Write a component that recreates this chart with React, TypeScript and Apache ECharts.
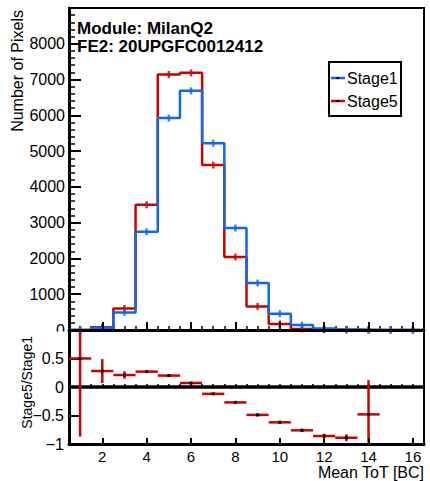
import React, { useEffect, useRef } from "react";
import * as echarts from "echarts";

// ---- data ----
const binCenters = [1, 2, 3, 4, 5, 6, 7, 8, 9, 10, 11, 12, 13, 14, 15, 16];
const stage1Counts = [2, 60, 492, 2746, 5922, 6684, 5223, 2849, 1313, 455, 140, 40, 15, 2, 0, 0];
const stage5Counts = [3, 77, 603, 3500, 7140, 7187, 4609, 2039, 659, 168, 31, 5, 2, 1, 0, 0];
const ratioCenters = [1, 2, 3, 4, 5, 6, 7, 8, 9, 10, 11, 12, 13, 14];
const ratioValues = [0.5, 0.28, 0.21, 0.27, 0.2, 0.07, -0.12, -0.27, -0.49, -0.62, -0.76, -0.86, -0.89, -0.48];
const ratioErrors = [1.37, 0.21, 0.065, 0.02, 0.015, 0.012, 0.012, 0.015, 0.02, 0.03, 0.03, 0.04, 0.06, 0.6];
const xTickLabels = [2, 4, 6, 8, 10, 12, 14, 16];
const seriesNames = ["Stage1", "Stage5"];
const infoLines = ["Module: MilanQ2", "FE2: 20UPGFC0012412"];

const FONT = "'Liberation Sans', Arial, Helvetica, sans-serif";
const BLUE = "#1166ee";
const RED = "#cc0000";
const BINW = 1;

function stepData(vals: number[]) {
  const d: number[][] = binCenters.map((c, i) => [c - BINW / 2, vals[i]]);
  d.push([binCenters[binCenters.length - 1] + BINW / 2, vals[vals.length - 1]]);
  return d;
}

export default function App() {
  const ref = useRef<HTMLDivElement>(null);
  useEffect(() => {
    if (!ref.current) return;
    const chart = echarts.init(ref.current, null, { renderer: "svg" });
    const gTop = { left: 69, top: 8, width: 355, height: 322 };
    const gBot = { left: 69, top: 330, width: 355, height: 114 };
    const xMin = binCenters[0] - BINW / 2;
    const xMax = binCenters[binCenters.length - 1] + BINW / 2;
    const black = "#000";

    const mainX = (gi: number, tickLen: number, showLabels: boolean) => ({
      type: "value",
      gridIndex: gi,
      min: xMin,
      max: xMax,
      z: 10,
      axisLine: { show: true, onZero: false, lineStyle: { color: black, width: 3 } },
      axisTick: { show: true, inside: true, length: tickLen, customValues: xTickLabels, lineStyle: { color: black, width: 2 } },
      axisLabel: {
        show: showLabels,
        customValues: xTickLabels,
        color: black,
        fontSize: 15,
        lineHeight: 15,
        fontFamily: FONT,
        margin: 5,
      },
      splitLine: { show: false },
    });
    const minorX = (gi: number, tickLen: number) => ({
      type: "value",
      gridIndex: gi,
      min: xMin,
      max: xMax,
      interval: 0.5,
      axisLine: { show: false },
      axisTick: { show: true, inside: true, length: tickLen, lineStyle: { color: black, width: 1.5 } },
      axisLabel: { show: false },
      splitLine: { show: false },
    });

    const option: any = {
      animation: false,
      grid: [
        { ...gTop, show: true, borderColor: black, borderWidth: 2, backgroundColor: "transparent" },
        { ...gBot, show: true, borderColor: black, borderWidth: 2, backgroundColor: "transparent" },
        { ...gTop, show: false },
        { ...gBot, show: false },
      ],
      xAxis: [mainX(0, 8, false), mainX(1, 6, true), minorX(2, 4), minorX(3, 3)],
      yAxis: [
        {
          type: "value",
          gridIndex: 0,
          min: 0,
          max: 9000,
          interval: 1000,
          axisLine: { show: true, lineStyle: { color: black, width: 3 } },
          axisTick: { show: true, inside: true, length: 12, lineStyle: { color: black, width: 2 } },
          minorTick: { show: true, splitNumber: 5, length: 6, lineStyle: { color: black, width: 1.5 } },
          axisLabel: {
            color: black,
            fontSize: 16,
            fontFamily: FONT,
            margin: 4,
            showMaxLabel: false,
            formatter: (v: number) => String(v),
          },
          splitLine: { show: false },
        },
        {
          type: "value",
          gridIndex: 1,
          min: -1,
          max: 1,
          interval: 0.5,
          axisLine: { show: true, onZero: false, lineStyle: { color: black, width: 3 } },
          axisTick: { show: true, inside: true, length: 11, lineStyle: { color: black, width: 2 } },
          axisLabel: {
            color: black,
            fontSize: 16,
            fontFamily: FONT,
            margin: 5,
            showMaxLabel: false,
            formatter: (v: number) => (v < 0 ? "\u2212" + String(Math.abs(v)) : String(v)),
          },
          splitLine: { show: false },
        },
        { type: "value", gridIndex: 2, min: 0, max: 9000, show: false },
        { type: "value", gridIndex: 3, min: -1, max: 1, show: false },
      ],
      series: [
        {
          name: seriesNames[1],
          type: "line",
          xAxisIndex: 0,
          yAxisIndex: 0,
          step: "end",
          symbol: "none",
          data: stepData(stage5Counts),
          lineStyle: { color: RED, width: 2.5 },
          z: 3,
        },
        {
          type: "scatter",
          xAxisIndex: 0,
          yAxisIndex: 0,
          symbol: "rect",
          symbolSize: [2.5, 7],
          data: binCenters.map((c, i) => [c, stage5Counts[i]]),
          itemStyle: { color: RED },
          z: 3,
        },
        {
          name: seriesNames[0],
          type: "line",
          xAxisIndex: 0,
          yAxisIndex: 0,
          step: "end",
          symbol: "none",
          data: stepData(stage1Counts),
          lineStyle: { color: BLUE, width: 2.5 },
          z: 4,
        },
        {
          type: "scatter",
          xAxisIndex: 0,
          yAxisIndex: 0,
          symbol: "rect",
          symbolSize: [2.5, 7],
          data: binCenters.map((c, i) => [c, stage1Counts[i]]),
          itemStyle: { color: BLUE },
          z: 4,
        },
        {
          type: "line",
          xAxisIndex: 1,
          yAxisIndex: 1,
          symbol: "none",
          data: [
            [xMin, 0],
            [xMax, 0],
          ],
          lineStyle: { color: black, width: 3.5 },
          z: 2,
        },
        {
          type: "custom",
          xAxisIndex: 1,
          yAxisIndex: 1,
          data: ratioCenters.map((c, i) => [c, ratioValues[i], ratioErrors[i]]),
          z: 5,
          renderItem: (params: any, api: any) => {
            const x = api.value(0);
            const y = api.value(1);
            const e = api.value(2);
            const hi = Math.min(y + e, 1);
            const lo = Math.max(y - e, -1);
            const pL = api.coord([x - BINW / 2, y]);
            const pR = api.coord([x + BINW / 2, y]);
            const pT = api.coord([x, hi]);
            const pB = api.coord([x, lo]);
            const pc = api.coord([x, y]);
            return {
              type: "group",
              children: [
                { type: "line", shape: { x1: pL[0], y1: pL[1], x2: pR[0], y2: pR[1] }, style: { stroke: RED, lineWidth: 2.5 } },
                { type: "line", shape: { x1: pT[0], y1: pT[1], x2: pB[0], y2: pB[1] }, style: { stroke: RED, lineWidth: 2.5 } },
                { type: "rect", shape: { x: pc[0] - 1.5, y: pc[1] - 1.5, width: 3, height: 3 }, style: { fill: black } },
              ],
            };
          },
        },
      ],
      graphic: [
        { type: "rect", z: 100, shape: { x: 38, y: 331.5, width: 28, height: 9 }, style: { fill: "#fff" } },
        {
          type: "text",
          z: 100,
          x: 77,
          y: 28,
          style: { text: infoLines[0], font: `bold 17px ${FONT}`, fill: black, align: "left", verticalAlign: "middle" },
        },
        {
          type: "text",
          z: 100,
          x: 77,
          y: 46.5,
          style: { text: infoLines[1], font: `bold 17px ${FONT}`, fill: black, align: "left", verticalAlign: "middle" },
        },
        {
          type: "text",
          z: 100,
          x: 17,
          y: 10,
          rotation: Math.PI / 2,
          style: { text: "Number of Pixels", font: `16px ${FONT}`, fill: black, align: "right", verticalAlign: "middle" },
        },
        {
          type: "text",
          z: 100,
          x: 27,
          y: 336,
          rotation: Math.PI / 2,
          style: { text: "Stage5/Stage1", font: `14px ${FONT}`, fill: black, align: "right", verticalAlign: "middle" },
        },
        {
          type: "text",
          z: 100,
          x: 424,
          y: 472,
          style: { text: "Mean ToT [BC]", font: `16px ${FONT}`, lineHeight: 15, fill: black, align: "right", verticalAlign: "middle" },
        },
        // legend
        { type: "rect", z: 100, shape: { x: 329, y: 62, width: 72, height: 54 }, style: { fill: "#fff", stroke: black, lineWidth: 2 } },
        { type: "line", z: 101, shape: { x1: 331, y1: 78, x2: 345, y2: 78 }, style: { stroke: BLUE, lineWidth: 2.5 } },
        { type: "rect", z: 102, shape: { x: 336.5, y: 77, width: 2.5, height: 2 }, style: { fill: black } },
        {
          type: "text",
          z: 101,
          x: 347,
          y: 78,
          style: { text: seriesNames[0], font: `16px ${FONT}`, fill: black, align: "left", verticalAlign: "middle" },
        },
        { type: "line", z: 101, shape: { x1: 331, y1: 101, x2: 345, y2: 101 }, style: { stroke: RED, lineWidth: 2.5 } },
        { type: "rect", z: 102, shape: { x: 336.5, y: 100, width: 2.5, height: 2 }, style: { fill: black } },
        {
          type: "text",
          z: 101,
          x: 347,
          y: 101,
          style: { text: seriesNames[1], font: `16px ${FONT}`, fill: black, align: "left", verticalAlign: "middle" },
        },
      ],
    };
    chart.setOption(option);
    return () => chart.dispose();
  }, []);
  return <div ref={ref} style={{ position: "absolute", left: 0, top: 0, width: 430, height: 481 }} />;
}
